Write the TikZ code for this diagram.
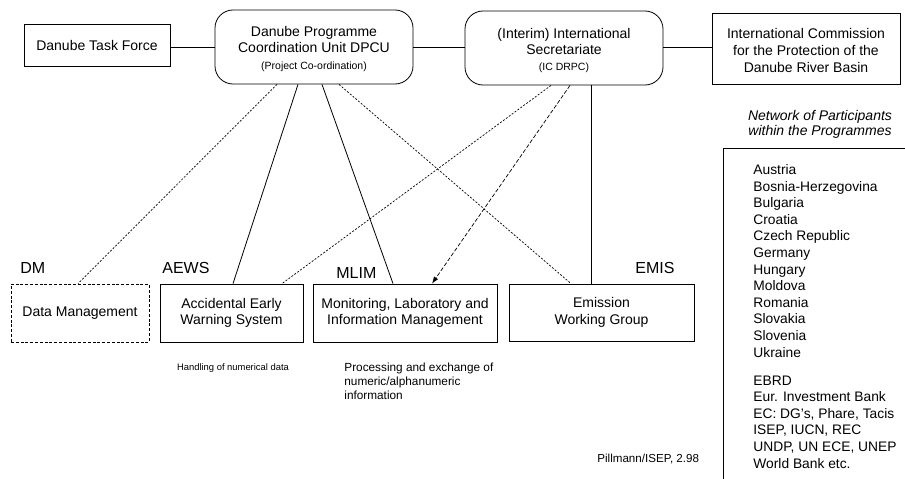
\documentclass[tikz,border=0pt]{standalone}
\usepackage{fontspec}
\setmainfont{Liberation Sans}
\usetikzlibrary{arrows.meta,calc}
\begin{document}
\begin{tikzpicture}[x=1pt,y=-1pt,line width=0.8pt,
  box/.style={draw,rectangle,inner sep=0pt,align=center,font=\fontsize{14}{16.5}\selectfont},
  rbox/.style={box,rounded corners=18pt},
  dmbox/.style={box,dash pattern=on 3pt off 1.8pt},
  txt/.style={inner sep=0pt,align=center,font=\fontsize{14}{16}\selectfont},
  tag/.style={inner sep=0pt,anchor=base west,font=\fontsize{16}{18}\selectfont},
  fine/.style={dash pattern=on 2pt off 1.6pt,line width=0.7pt},
  longdash/.style={dash pattern=on 4pt off 2pt,line width=0.7pt},
  solidline/.style={line width=0.8pt}
]
\useasboundingbox (0,0) rectangle (905,479);

% top row
\node[box,minimum width=146pt,minimum height=42pt] (tf) at (97,45) {Danube Task Force};
\node[rbox,minimum width=198pt,minimum height=74pt] (dpcu) at (314,47) {};
\node[txt,anchor=north] (dpcut) at (314,26.1) {Danube Programme\\Coordination Unit DPCU\\[1.3pt]{\fontsize{10.5}{12}\selectfont (Project Co-ordination)}};
\node[rbox,minimum width=198pt,minimum height=74pt] (is) at (564,48) {};
\node[txt,anchor=north] (ist) at (564,28.4) {(Interim) International\\Secretariate\\{\fontsize{10.5}{12}\selectfont (IC DRPC)}};
\node[box,minimum width=188pt,minimum height=71pt] (ic) at (806,48.5) {};
\node[txt,anchor=north] (ict) at (806,28.4) {International Commission\\[0.8pt]for the Protection of the\\[0.8pt]Danube River Basin};

\draw[solidline] (dpcu.west |- 0,47) -- (tf.east |- 0,47);
\draw[solidline] (dpcu.east |- 0,47) -- (is.west |- 0,47);
\draw[solidline] (is.east |- 0,47) -- (ic.west |- 0,47);

% bottom row
\node[dmbox,minimum width=138pt,minimum height=58pt] (dm) at (80,313) {Data Management};
\node[box,minimum width=143pt,minimum height=58pt] (aews) at (231.5,313) {Accidental Early\\Warning System};
\node[box,minimum width=184pt,minimum height=58pt] (mlim) at (405,313) {Monitoring, Laboratory and\\Information Management};
\node[box,minimum width=185pt,minimum height=57pt] (emis) at (601.5,312.5) {Emission\\Working Group};

\node[tag] (dmtag) at (20,273.7) {DM};
\node[tag] (aewstag) at (162,273.7) {AEWS};
\node[tag] (mlimtag) at (336,278.7) {MLIM};
\node[tag] (emistag) at (635,273.7) {EMIS};

% connectors
\draw[fine] ([xshift=-37pt]dpcu.south) -- ([xshift=-2pt]dm.north);
\draw[solidline] ([xshift=-16pt]dpcu.south) -- ([xshift=1.5pt]aews.north);
\draw[solidline] ([xshift=8pt]dpcu.south) -- ([xshift=-12pt]mlim.north);
\draw[fine] ([xshift=25pt]dpcu.south) -- ([xshift=-30.5pt]emis.north);
\draw[fine] ([xshift=-13pt]is.south) -- ([xshift=50.5pt]aews.north);
\draw[longdash,-{Latex[length=7pt,width=5pt]}] ([xshift=6pt]is.south) -- ([xshift=27pt]mlim.north);
\draw[solidline] ([xshift=27pt]is.south) -- ([xshift=-10.5pt]emis.north);

% captions
\node[inner sep=0pt,anchor=base,font=\fontsize{9.4}{11}\selectfont] (cap1) at (233,370.5) {Handling of numerical data};
\node[inner sep=0pt,anchor=north west,align=left,font=\fontsize{11.8}{14}\selectfont] (cap2) at (344,362.4) {Processing and exchange of\\numeric/alphanumeric\\information};
\node[inner sep=0pt,anchor=base west,font=\fontsize{11.6}{14}\selectfont] (sig) at (597,462) {Pillmann/ISEP, 2.98};

% right panel
\node[inner sep=0pt,anchor=north,align=center,font=\fontsize{14}{15}\selectfont\itshape] (nethead) at (820,109.5) {Network of Participants\\within the Programmes};
\coordinate (pbot) at (723,479);
\coordinate (ptop) at (905,148);
\draw[line width=0.8pt] (pbot) |- (ptop);
\node[inner sep=0pt,anchor=north west,align=left,font=\fontsize{13.8}{16.6}\selectfont] (list) at (753,164) {Austria\\Bosnia-Herzegovina\\Bulgaria\\Croatia\\Czech Republic\\Germany\\Hungary\\Moldova\\Romania\\Slovakia\\Slovenia\\Ukraine\\[11.4pt]EBRD\\Eur. Investment Bank\\EC: DG's, Phare, Tacis\\ISEP, IUCN, REC\\UNDP, UN ECE, UNEP\\World Bank etc.};
\end{tikzpicture}
\end{document}
